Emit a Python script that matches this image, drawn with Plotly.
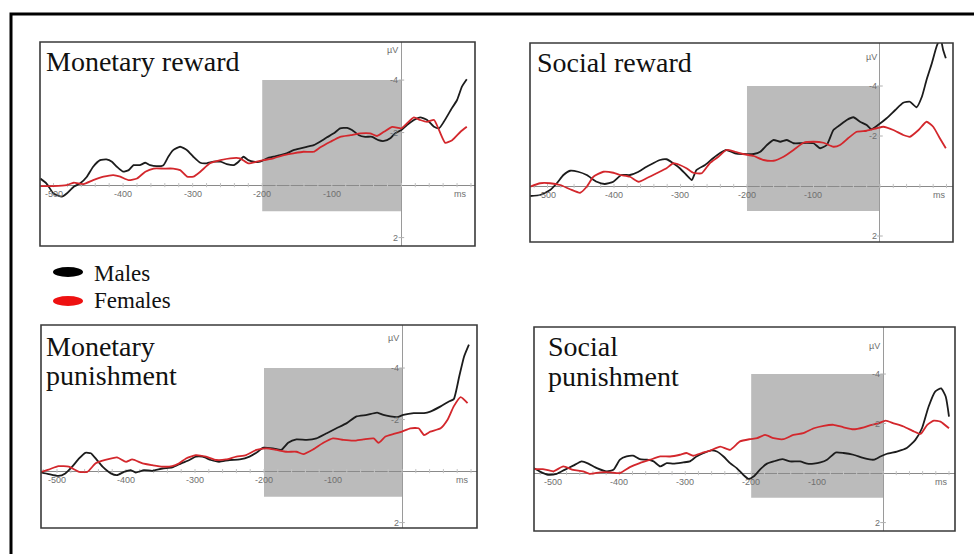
import plotly.graph_objects as go

# ---------------------------------------------------------------------------
# Grand-average ERP waveforms (µV, negative plotted upward), time in ms
# ---------------------------------------------------------------------------

# Monetary reward
t_mr_m = [-519, -510, -500, -488, -481, -471, -462, -452, -443, -433, -424, -416, -409, -400, -392, -385,
          -376, -368, -361, -352, -342, -335, -328, -318, -308, -299, -289, -280, -270, -260, -251, -241,
          -234, -227, -220, -212, -203, -193, -184, -174, -165, -155, -145, -136, -126, -117, -107, -97,
          -88, -78, -71, -61, -52, -42, -33, -25, -16, -9, 0, 8, 18, 27, 37, 47, 54, 61, 71, 80, 87, 94]
v_mr_m = [-0.25, -0.06, 0.32, 0.44, 0.32, 0.06, -0.06, -0.32, -0.70, -0.95, -0.98, -0.89, -0.70, -0.51, -0.57, -0.76,
          -0.76, -0.85, -0.76, -0.72, -0.76, -1.08, -1.33, -1.46, -1.33, -1.08, -0.85, -0.83, -0.89, -0.89, -0.80, -0.76,
          -0.89, -1.08, -0.95, -0.89, -0.89, -1.02, -1.08, -1.14, -1.21, -1.33, -1.40, -1.46, -1.52, -1.65, -1.82, -1.97,
          -2.16, -2.18, -2.10, -1.90, -1.84, -1.84, -1.71, -1.68, -1.78, -1.97, -2.10, -2.29, -2.48, -2.58, -2.48, -2.22,
          -2.16, -2.41, -2.86, -3.24, -3.75, -4.03]
t_mr_f = [-519, -500, -481, -471, -457, -443, -428, -414, -404, -392, -380, -368, -356, -342, -328, -318,
          -308, -299, -289, -275, -260, -246, -232, -220, -208, -198, -184, -169, -155, -141, -126, -117,
          -102, -88, -73, -59, -45, -35, -25, -13, 0, 8, 18, 27, 37, 47, 54, 63, 73, 85, 94]
v_mr_f = [0.04, 0.04, 0.00, -0.09, -0.04, -0.19, -0.32, -0.38, -0.32, -0.19, -0.25, -0.51, -0.63, -0.63, -0.63, -0.57,
          -0.32, -0.32, -0.51, -0.83, -0.95, -1.02, -1.02, -0.83, -0.89, -0.95, -1.02, -1.14, -1.21, -1.27, -1.27, -1.43,
          -1.65, -1.84, -1.90, -1.97, -1.97, -1.87, -2.03, -2.22, -2.16, -2.35, -2.58, -2.48, -2.41, -2.48, -2.10, -1.61,
          -1.71, -2.03, -2.22]

# Social reward
t_sr_m = [-526, -511, -496, -486, -476, -466, -454, -441, -426, -414, -401, -389, -376, -363, -351, -341,
          -331, -321, -311, -301, -291, -283, -276, -263, -251, -241, -231, -218, -206, -190, -180, -170,
          -160, -150, -140, -130, -120, -110, -100, -90, -80, -70, -60, -50, -40, -30, -20, -13, -3, 10,
          23, 35, 45, 55, 63, 70, 78, 85, 91, 95, 99]
v_sr_m = [0.40, 0.36, 0.16, -0.11, -0.44, -0.61, -0.57, -0.44, -0.17, -0.08, -0.17, -0.44, -0.44, -0.57, -0.77, -0.91,
          -1.04, -1.07, -0.91, -0.71, -0.44, -0.24, -0.64, -0.84, -1.11, -1.31, -1.44, -1.31, -1.28, -1.28, -1.37, -1.64,
          -1.84, -1.77, -1.84, -1.71, -1.71, -1.73, -1.71, -1.51, -1.64, -2.24, -2.44, -2.64, -2.75, -2.57, -2.44, -2.27,
          -2.44, -2.71, -3.04, -3.33, -3.37, -3.15, -3.57, -4.24, -4.91, -5.57, -5.90, -5.44, -5.11]
t_sr_f = [-526, -511, -496, -481, -466, -451, -441, -431, -416, -401, -391, -376, -363, -351, -336, -321,
          -311, -301, -291, -281, -268, -256, -243, -231, -218, -206, -190, -175, -160, -145, -130, -115,
          -100, -85, -70, -60, -48, -35, -20, -5, 5, 20, 35, 45, 58, 70, 80, 90, 99]
v_sr_f = [0.03, -0.11, -0.11, -0.04, 0.13, 0.27, 0.03, -0.37, -0.57, -0.53, -0.44, -0.37, -0.17, -0.31, -0.51, -0.71,
          -0.91, -0.84, -0.71, -0.53, -0.51, -0.91, -1.17, -1.44, -1.37, -1.28, -1.20, -1.04, -1.01, -1.17, -1.44, -1.73,
          -1.77, -1.73, -1.57, -1.64, -1.91, -2.17, -2.21, -2.31, -2.37, -2.24, -2.04, -1.97, -2.24, -2.57, -2.37, -1.91,
          -1.51]

# Monetary punishment
t_mp_m = [-527, -512, -498, -488, -478, -468, -459, -451, -444, -434, -422, -413, -403, -393, -386, -374,
          -362, -347, -333, -320, -308, -299, -289, -277, -265, -250, -235, -221, -209, -201, -187, -175,
          -165, -153, -138, -124, -109, -95, -80, -66, -51, -36, -27, -17, -7, 2, 17, 32, 41, 56, 68, 75,
          83, 90, 97]
v_mp_m = [0.03, 0.12, 0.19, 0.09, -0.17, -0.49, -0.71, -0.69, -0.49, -0.17, 0.09, 0.16, 0.03, -0.04, 0.06, -0.04,
          -0.01, -0.10, -0.14, -0.30, -0.43, -0.56, -0.56, -0.43, -0.36, -0.43, -0.45, -0.56, -0.75, -0.91, -0.88, -0.82,
          -1.10, -1.23, -1.21, -1.27, -1.47, -1.66, -1.86, -2.12, -2.18, -2.27, -2.18, -2.12, -2.09, -2.18, -2.25, -2.25,
          -2.31, -2.51, -2.70, -2.79, -3.68, -4.45, -4.91]
t_mp_f = [-527, -512, -498, -483, -468, -456, -444, -430, -413, -400, -391, -376, -362, -347, -333, -323,
          -313, -299, -284, -269, -255, -240, -226, -211, -197, -182, -167, -153, -143, -129, -114, -100,
          -85, -70, -56, -41, -34, -24, -12, 0, 12, 24, 32, 41, 56, 66, 75, 85, 95]
v_mp_f = [0.06, -0.06, -0.19, -0.17, 0.03, 0.03, -0.30, -0.43, -0.53, -0.36, -0.45, -0.30, -0.23, -0.17, -0.19, -0.30,
          -0.49, -0.62, -0.56, -0.43, -0.45, -0.56, -0.62, -0.82, -0.88, -0.82, -0.75, -0.75, -0.66, -0.84, -1.10, -1.27,
          -1.21, -1.18, -1.23, -1.27, -1.10, -1.34, -1.44, -1.53, -1.66, -1.66, -1.40, -1.53, -1.66, -1.99, -2.51, -2.87,
          -2.64]

# Social punishment
t_sp_m = [-530, -521, -508, -495, -483, -470, -457, -447, -434, -419, -409, -399, -389, -379, -369, -358,
          -348, -338, -328, -318, -303, -293, -283, -272, -262, -252, -242, -232, -222, -212, -204, -196,
          -186, -176, -166, -153, -141, -126, -115, -105, -95, -85, -72, -60, -45, -29, -14, -4, 6, 21,
          36, 49, 59, 69, 79, 88, 95, 100]
v_sp_m = [-0.20, -0.07, 0.07, 0.03, -0.13, -0.30, -0.47, -0.38, -0.20, -0.07, -0.13, -0.54, -0.67, -0.70, -0.56, -0.54,
          -0.47, -0.27, -0.40, -0.38, -0.43, -0.47, -0.67, -0.81, -0.91, -0.87, -0.67, -0.40, -0.20, 0.07, 0.24, 0.13,
          -0.16, -0.38, -0.47, -0.56, -0.47, -0.47, -0.38, -0.38, -0.43, -0.54, -0.83, -0.81, -0.74, -0.60, -0.54, -0.67,
          -0.78, -0.87, -1.01, -1.34, -1.81, -2.68, -3.29, -3.42, -3.09, -2.28]
t_sp_f = [-530, -516, -500, -485, -470, -455, -445, -429, -414, -399, -384, -369, -353, -338, -323, -308,
          -298, -288, -275, -262, -247, -232, -217, -202, -191, -179, -166, -151, -136, -121, -105, -90,
          -75, -60, -45, -29, -17, -7, 4, 16, 31, 47, 57, 67, 77, 87, 100]
v_sp_f = [-0.16, -0.16, -0.07, -0.27, -0.13, -0.07, 0.03, -0.03, -0.03, 0.00, -0.24, -0.40, -0.54, -0.67, -0.67, -0.74,
          -0.81, -0.70, -0.81, -0.91, -1.07, -0.94, -1.28, -1.37, -1.41, -1.54, -1.41, -1.37, -1.54, -1.61, -1.81, -1.91,
          -1.95, -1.85, -1.77, -1.85, -1.95, -2.01, -2.12, -2.01, -1.88, -1.68, -1.58, -1.95, -2.12, -2.08, -1.81]

# Axis annotations
x_tick_vals = [-500, -400, -300, -200, -100]
x_tick_text = ["-500", "-400", "-300", "-200", "-100"]
x_minor_ticks = list(range(-520, 101, 20))
y_tick_vals = [-4, -2, 2]
y_tick_text = ["-4", "-2", "2"]

# Analysis window (pre-feedback interval)
win_start, win_end = -200, 0
win_low, win_high = 1, -4

series_names = ["Males", "Females"]
series_colors = ["#1c1c1c", "#d3272c"]
legend_colors = ["#000000", "#ee1111"]

# ---------------------------------------------------------------------------
W, H = 974, 554


def px(x):
    return x / W


def py(y):
    return 1 - y / H


panels = [
    dict(title=["Monetary reward"], title_xy=[(44, 61)],
         data=[(t_mr_m, v_mr_m), (t_mr_f, v_mr_f)],
         box=(40, 42, 475, 246), xr=[-519.4, 105.8], yr=[2.32, -5.45]),
    dict(title=["Social reward"], title_xy=[(535, 62)],
         data=[(t_sr_m, v_sr_m), (t_sr_f, v_sr_f)],
         box=(530, 43, 953, 242), xr=[-526.3, 109.8], yr=[2.24, -5.72]),
    dict(title=["Monetary", "punishment"], title_xy=[(44, 346), (44, 375)],
         data=[(t_mp_m, v_mp_m), (t_mp_f, v_mp_f)],
         box=(41, 325, 477, 528), xr=[-523.2, 108.7], yr=[2.21, -5.67]),
    dict(title=["Social", "punishment"], title_xy=[(546, 346), (546, 376)],
         data=[(t_sp_m, v_sp_m), (t_sp_f, v_sp_f)],
         box=(534, 327, 955, 531), xr=[-529.4, 109.1], yr=[2.34, -5.90]),
]

fig = go.Figure()
layout = dict(
    width=W, height=H, margin=dict(l=0, r=0, t=0, b=0),
    paper_bgcolor="white", plot_bgcolor="white", showlegend=False,
)
shapes, annotations = [], []

tick_font = dict(family="Liberation Sans, Arial", size=9, color="#6f6f6f")
title_font = dict(family="Liberation Serif, Times New Roman", size=28, color="#111111")

for i, p in enumerate(panels, start=1):
    xa = "x" if i == 1 else f"x{i}"
    ya = "y" if i == 1 else f"y{i}"
    l, t, r, b = p["box"]
    layout[f"xaxis{'' if i == 1 else i}"] = dict(
        domain=[px(l), px(r)], range=p["xr"], anchor=ya,
        showgrid=False, showticklabels=False, ticks="", showline=False,
        zeroline=True, zerolinecolor="#9a9a9a", zerolinewidth=1,
    )
    layout[f"yaxis{'' if i == 1 else i}"] = dict(
        domain=[py(b), py(t)], range=p["yr"], anchor=xa,
        showgrid=False, showticklabels=False, ticks="", showline=False,
        zeroline=True, zerolinecolor="#8a8a8a", zerolinewidth=1,
    )

    # shaded analysis window
    shapes.append(dict(type="rect", xref=xa, yref=ya, x0=win_start, x1=win_end,
                       y0=win_low, y1=win_high, fillcolor="#bbbbbb",
                       line=dict(width=0), layer="below"))
    # panel frame
    shapes.append(dict(type="rect", xref=f"{xa} domain", yref=f"{ya} domain",
                       x0=0, x1=1, y0=0, y1=1, line=dict(color="#3a3a3a", width=1.6),
                       layer="above"))

    # faint tick marks along the time axis and amplitude axis
    fig.add_trace(go.Scatter(
        x=x_minor_ticks, y=[0] * len(x_minor_ticks), mode="markers", xaxis=xa, yaxis=ya,
        marker=dict(symbol="line-ns", size=3, line=dict(color="#c4c4c4", width=1)),
        hoverinfo="skip"))
    fig.add_trace(go.Scatter(
        x=[0] * len(y_tick_vals), y=y_tick_vals, mode="markers", xaxis=xa, yaxis=ya,
        marker=dict(symbol="line-ew", size=4, line=dict(color="#b0b0b0", width=1)),
        hoverinfo="skip"))

    # waveforms
    for (tt, vv), name, col in zip(p["data"], series_names, series_colors):
        fig.add_trace(go.Scatter(
            x=tt, y=vv, mode="lines", name=name, xaxis=xa, yaxis=ya,
            line=dict(color=col, width=1.8, shape="spline", smoothing=0.5),
            hoverinfo="skip"))

    # tick labels sitting on the zero lines
    for v, s in zip(x_tick_vals, x_tick_text):
        annotations.append(dict(x=v, y=0, xref=xa, yref=ya, text=s, showarrow=False,
                                yanchor="top", yshift=-2, font=tick_font))
    annotations.append(dict(x=0.985, y=0, xref=f"{xa} domain", yref=ya, text="ms",
                            showarrow=False, xanchor="right", yanchor="top", yshift=-2,
                            font=tick_font))
    for v, s in zip(y_tick_vals, y_tick_text):
        annotations.append(dict(x=0, y=v, xref=xa, yref=ya, text=s, showarrow=False,
                                xanchor="right", xshift=-1, font=tick_font))
    annotations.append(dict(x=0, y=-5.15, xref=xa, yref=ya, text="µV", showarrow=False,
                            xanchor="right", xshift=-1, font=tick_font))

    # panel title
    for txt, (tx, ty) in zip(p["title"], p["title_xy"]):
        annotations.append(dict(x=px(tx), y=py(ty), xref="paper", yref="paper", text=txt,
                                showarrow=False, xanchor="left", yanchor="middle",
                                font=title_font))

# legend drawn as filled ellipses with labels
legend_rows = [(272, 273), (301, 300)]
for (ey, ty), name, col in zip(legend_rows, series_names, legend_colors):
    shapes.append(dict(type="circle", xref="paper", yref="paper",
                       x0=px(53), x1=px(83), y0=py(ey + 5), y1=py(ey - 5),
                       fillcolor=col, line=dict(width=0)))
    annotations.append(dict(x=px(92), y=py(ty), xref="paper", yref="paper", text=name,
                            showarrow=False, xanchor="left", yanchor="middle",
                            font=dict(family="Liberation Serif, Times New Roman", size=23,
                                      color="#111111")))

# outer frame (continues past the right and bottom edges)
shapes.append(dict(type="rect", xref="paper", yref="paper",
                   x0=px(11), x1=px(990), y0=py(570), y1=py(14),
                   line=dict(color="#000000", width=3), layer="above"))

layout["shapes"] = shapes
layout["annotations"] = annotations
fig.update_layout(**layout)

fig.write_html("out.html")
